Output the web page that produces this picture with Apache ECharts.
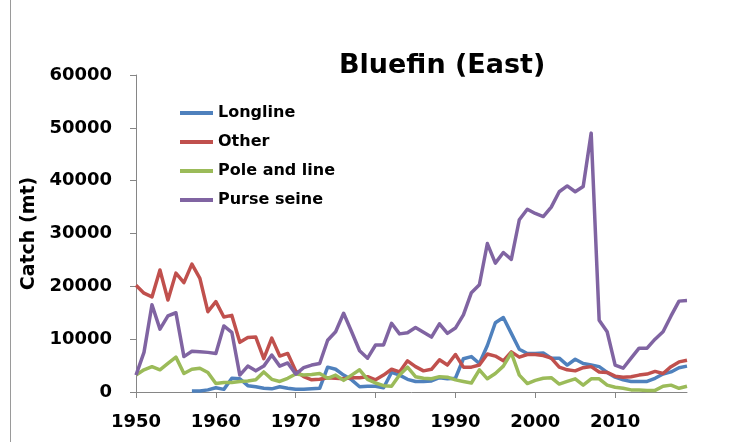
<!DOCTYPE html>
<html>
<head>
<meta charset="utf-8">
<script src="https://cdn.jsdelivr.net/npm/echarts@6/dist/echarts.min.js"></script>
<style>
html,body{margin:0;padding:0;background:#fff;}
#chart{width:733px;height:442px;}
</style>
</head>
<body>
<div id="chart"></div>
<script>
var years = [];
for (var y = 1950; y <= 2019; y++) years.push(String(y));

var longline = [null,null,null,null,null,null,null,200,200,400,
  800,500,2600,2500,1200,1000,700,600,1000,700,
  500,500,600,700,4700,4300,3200,2300,1000,1100,
  1100,800,3700,3200,2400,2000,2000,2100,2700,2500,
  2600,6300,6700,5400,8800,13100,14100,11100,8100,7300,
  7300,7400,6400,6400,5100,6200,5400,5100,4800,3700,
  2800,2300,2000,2000,2000,2600,3400,3800,4600,4900];

var other = [20200,18700,18000,23100,17400,22500,20700,24200,21500,15200,
  17100,14200,14500,9400,10300,10400,6300,10200,6800,7300,
  4000,2900,2300,2400,2700,2600,2500,2700,2700,2900,
  2300,3200,4300,3800,5900,4800,4000,4300,6100,5100,
  7100,4700,4700,5100,7200,6800,5900,7600,6600,7100,
  7100,6900,6400,4700,4200,4000,4600,4800,3800,3700,
  3000,2800,2900,3200,3400,3900,3500,4800,5700,6000];

var poleAndLine = [3200,4200,4800,4200,5400,6600,3500,4300,4500,3700,
  1600,1800,1800,2000,2100,2300,3800,2400,2000,2600,
  3400,3200,3300,3500,2600,3200,2200,3200,4200,2400,
  1700,1200,1100,3200,4700,2900,2600,2500,2900,2800,
  2300,2000,1700,4200,2500,3500,4900,7400,3200,1600,
  2200,2600,2700,1500,2000,2500,1300,2500,2500,1300,
  900,700,400,400,300,300,1100,1300,700,1100];

var purseSeine = [3200,7500,16500,11900,14400,15000,6700,7700,7600,7500,
  7300,12500,11300,3200,4900,4000,4900,7000,4900,5500,
  3400,4600,5100,5400,9800,11400,14900,11400,7800,6400,
  8900,8900,13000,11000,11200,12200,11300,10400,12900,11100,
  12100,14600,18800,20300,28100,24400,26400,25100,32600,34600,
  33800,33200,35000,37900,39000,37900,38900,49000,13600,11400,
  5100,4500,6400,8300,8300,10000,11400,14400,17200,17300];

var seriesNames = ['Longline','Other','Pole and line','Purse seine'];
var seriesData = [longline, other, poleAndLine, purseSeine];
var colors = ['#4F81BD','#C0504D','#9BBB59','#8064A2'];

var FONT = 'DejaVu Sans';
var chart = echarts.init(document.getElementById('chart'), null, {renderer:'canvas'});
chart.setOption({
  animation: false,
  backgroundColor: '#fff',
  color: colors,
  title: {
    text: 'Bluefin (East)',
    left: 334, top: 47,
    textStyle: {fontFamily: FONT, fontWeight: 'bold', fontSize: 27, color: '#000'}
  },
  legend: {
    orient: 'vertical',
    left: 175, top: 98,
    icon: 'rect',
    itemWidth: 33, itemHeight: 4,
    itemGap: 9,
    data: seriesNames,
    textStyle: {fontFamily: FONT, fontWeight: 'bold', fontSize: 16, color: '#000', lineHeight: 20}
  },
  grid: {left: 136, right: 46, top: 75, bottom: 50, containLabel: false},
  xAxis: {
    type: 'category',
    data: years,
    boundaryGap: false,
    axisLine: {lineStyle: {color: '#868686', width: 1}},
    axisTick: {interval: 9, length: 6, lineStyle: {color: '#868686'}},
    axisLabel: {interval: 9, margin: 21, fontFamily: FONT, fontWeight: 'bold', fontSize: 18, color: '#000'},
    splitLine: {show: false}
  },
  yAxis: {
    type: 'value',
    min: 0, max: 60000, interval: 10000,
    name: 'Catch (mt)',
    nameLocation: 'middle',
    nameRotate: 90,
    nameGap: 87,
    nameTextStyle: {fontFamily: FONT, fontWeight: 'bold', fontSize: 19, color: '#000'},
    axisLine: {show: true, lineStyle: {color: '#868686', width: 1}},
    axisTick: {show: true, length: 6, lineStyle: {color: '#868686'}},
    axisLabel: {margin: 24, fontFamily: FONT, fontWeight: 'bold', fontSize: 18, color: '#000',
      formatter: function (v) { return String(v); }},
    splitLine: {show: false}
  },
  graphic: [
    {type: 'line', shape: {x1: 10.5, y1: 0, x2: 10.5, y2: 442}, style: {stroke: '#9a9a9a', lineWidth: 1}}
  ],
  series: seriesData.map(function (d, i) {
    return {
      name: seriesNames[i],
      type: 'line',
      data: d,
      showSymbol: false,
      symbol: 'none',
      lineStyle: {width: 3.5, color: colors[i], join: 'round'},
      itemStyle: {color: colors[i]}
    };
  })
});
</script>
</body>
</html>
